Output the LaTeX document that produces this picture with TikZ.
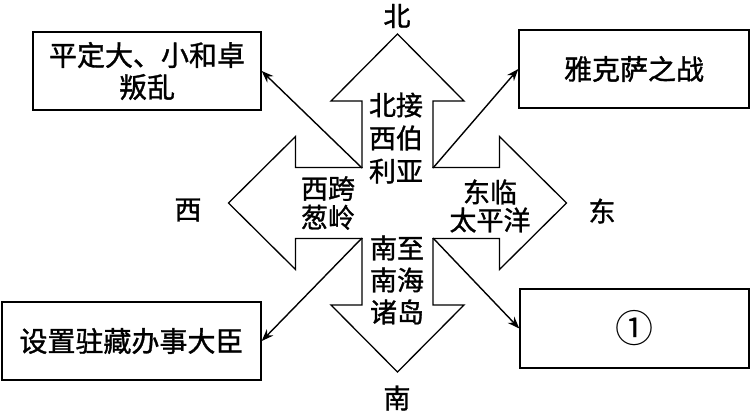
\documentclass[tikz,border=0pt]{standalone}
\usepackage{fontspec}
\setmainfont{Noto Sans CJK SC}[BoldFont={Noto Sans CJK SC}, BoldFeatures={FakeBold=1.2}]
\usetikzlibrary{arrows.meta, positioning}

\begin{document}
\begin{tikzpicture}[x=1pt, y=-1pt, >={Stealth[length=12pt, width=9pt]},
    box/.style={draw, line width=1.4pt, inner sep=0pt, align=center,
      font=\bfseries\fontsize{28}{32}\selectfont},
    blockarrow/.style={draw, line width=1.3pt, line join=miter},
    dirtext/.style={font=\bfseries\fontsize{27}{33}\selectfont},
    fieldtext/.style={align=center, inner sep=0pt}]
  \useasboundingbox (0,0) rectangle (756,415);

  % the four big arrows round the centre square
  \coordinate (o) at (397.5,203);
  \foreach \ang in {0,90,180,270}
    \draw[blockarrow, rotate around={\ang:(o)}]
      (362,168) -- (362,101) -- (331,101) -- (397.5,34)
      -- (464,101) -- (433,101) -- (433,168);

  % corners where the connectors start
  \coordinate (nw) at (362,168);
  \coordinate (ne) at (433,168);
  \coordinate (sw) at (362,238);
  \coordinate (se) at (433,238);

  % directions
  \node[dirtext] (north) at (397,16) {北};
  \node[dirtext] (south) at (397,398) {南};
  \node[dirtext] (west) at (188,210) {西};
  \node[dirtext] (east) at (602,211) {东};

  % texts inside the arrows
  \node[fieldtext, font=\bfseries\fontsize{27}{33}\selectfont] (tn) at (396,138) {北接\\西伯\\利亚};
  \node[fieldtext, font=\bfseries\fontsize{27}{29}\selectfont] (tw) at (328,203) {西跨\\葱岭};
  \node[fieldtext, font=\bfseries\fontsize{27}{28}\selectfont] (te) at (490,206) {东临\\太平洋};
  \node[fieldtext, font=\bfseries\fontsize{27}{32}\selectfont] (ts) at (397,280) {南至\\南海\\诸岛};

  % events
  \node[box, minimum width=228pt, minimum height=78pt] (dxhz) at (147,71)
    {平定大、小和卓\\叛乱};
  \node[box, minimum width=230pt, minimum height=78pt] (yks) at (634,69)
    {雅克萨之战};
  \node[box, minimum width=259pt, minimum height=78pt] (zzdc) at (131.5,341)
    {设置驻藏办事大臣};
  \node[box, minimum width=229pt, minimum height=79pt,
    font=\mdseries\fontsize{38}{40}\selectfont] (blank) at (634.5,328.5)
    {①};

  \path[->, line width=1.4pt]
    (nw) edge (dxhz.east)
    (ne) edge (yks.west)
    (sw) edge (zzdc.east)
    (se) edge (blank.west);
\end{tikzpicture}
\end{document}
